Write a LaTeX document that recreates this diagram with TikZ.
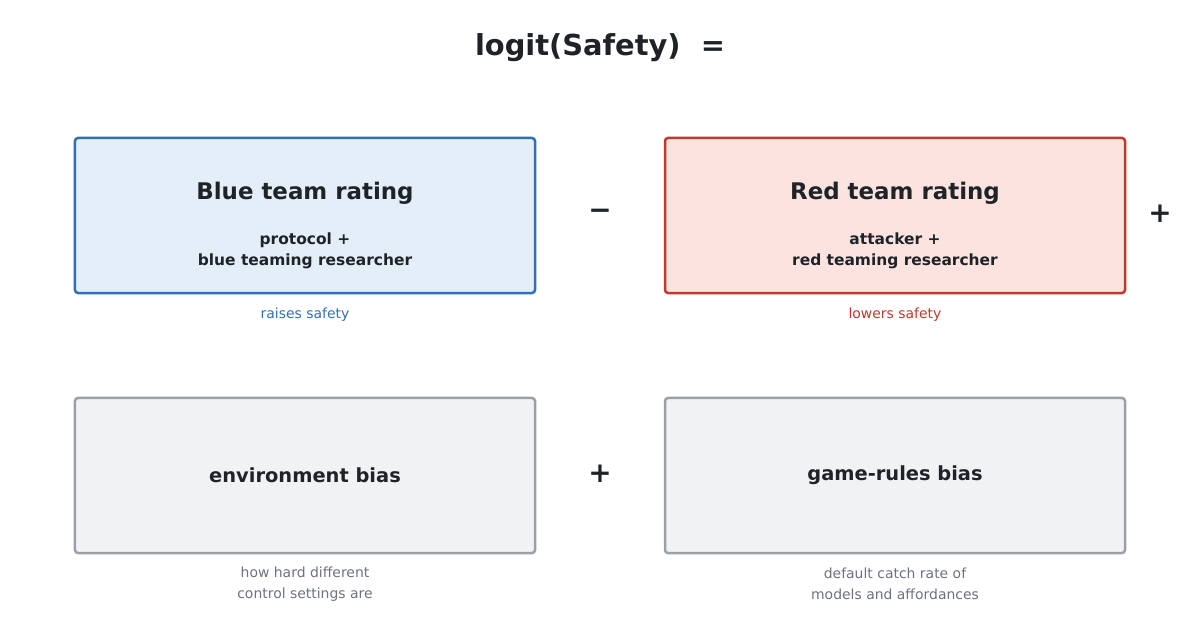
\documentclass[tikz,border=0pt]{standalone}
\usepackage{fontspec}
\setmainfont{DejaVu Sans}
\definecolor{ink}{HTML}{1F2328}
\definecolor{bluefill}{HTML}{E3EEF9}
\definecolor{blueline}{HTML}{2F6FBA}
\definecolor{redfill}{HTML}{FBE4E0}
\definecolor{redline}{HTML}{C0392B}
\definecolor{grayfill}{HTML}{F1F2F4}
\definecolor{grayline}{HTML}{9AA0A6}
\definecolor{capgray}{HTML}{6B7280}
\begin{document}
\begin{tikzpicture}[x=1bp,y=-1bp,
  box/.style={draw,line width=2.5bp,rounded corners=3bp,minimum width=460bp,minimum height=155bp,inner sep=0pt},
  ttl/.style={font=\bfseries\fontsize{23}{28}\selectfont,text=ink},
  sub/.style={font=\bfseries\fontsize{15.5}{21}\selectfont,text=ink,align=center},
  captext/.style={font=\fontsize{14}{21}\selectfont,align=center},
  op/.style={font=\bfseries\fontsize{28}{32}\selectfont,text=ink}]
\useasboundingbox (0,0) rectangle (1200,628);
\node[font=\bfseries\fontsize{29}{36}\selectfont,text=ink] (title) at (600,48) {logit(Safety)\ \ =};
\node[box,draw=blueline,fill=bluefill] (blue) at (305,215.5) {};
\node[ttl] (bt) at (305,193) {Blue team rating};
\node[sub] (bs) at (305,251) {protocol +\\blue teaming researcher};
\node[captext,text=blueline] (bc) at (305,315) {raises safety};
\node[box,draw=redline,fill=redfill] (red) at (895,215.5) {};
\node[ttl] (rt) at (895,193) {Red team rating};
\node[sub] (rs) at (895,251) {attacker +\\red teaming researcher};
\node[captext,text=redline] (rc) at (895,315) {lowers safety};
\node[box,draw=grayline,fill=grayfill] (env) at (305,475.5) {};
\node[font=\bfseries\fontsize{19.5}{25}\selectfont,text=ink] (et) at (305,475) {environment bias};
\node[captext,text=capgray] (ec) at (305,584) {how hard different\\control settings are};
\node[box,draw=grayline,fill=grayfill] (game) at (895,475.5) {};
\node[font=\bfseries\fontsize{19.5}{25}\selectfont,text=ink] (gt) at (895,475) {game-rules bias};
\node[captext,text=capgray] (gc) at (895,584) {default catch rate of\\models and affordances};
\node[op] (minus) at (600,214) {−};
\node[op] (plus1) at (1160,214) {+};
\node[op] (plus2) at (600,474) {+};
\end{tikzpicture}
\end{document}
